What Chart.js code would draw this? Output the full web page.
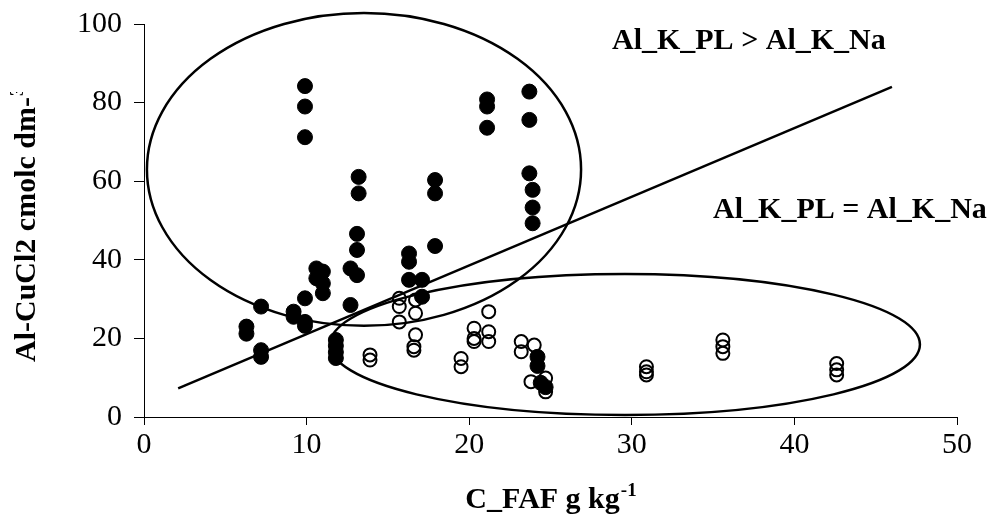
<!DOCTYPE html>
<html>
<head>
<meta charset="utf-8">
<script src="https://cdn.jsdelivr.net/npm/chart.js@4/dist/chart.umd.min.js"></script>
<style>
  html, body { margin: 0; padding: 0; background: #fff; }
  #wrap { width: 1001px; height: 532px; }
</style>
</head>
<body>
<div id="wrap"><canvas id="c" width="1001" height="532"></canvas></div>
<script>
// Samples where Al_K_PL > Al_K_Na (filled markers)
const filledX = [6.3, 6.3, 7.2, 7.2, 7.2, 9.2, 9.2, 9.9, 9.9, 9.9, 9.9, 9.9, 9.9,
  10.6, 10.6, 11.0, 11.0, 11.0, 11.8, 11.8, 11.8, 11.8, 12.7, 12.7, 13.1,
  13.2, 13.2, 13.1, 13.1, 16.3, 16.3, 16.3, 17.1, 17.1, 17.9, 17.9, 17.9,
  21.1, 21.1, 21.1, 23.7, 23.7, 23.7, 23.9, 23.9, 23.9, 24.2, 24.2, 24.4, 24.7];
const filledY = [23.0, 21.2, 28.1, 17.0, 15.3, 26.8, 25.5, 84.2, 79.0, 71.2, 30.2, 24.2, 23.2,
  37.8, 35.3, 37.0, 34.0, 31.5, 19.6, 18.1, 16.5, 15.0, 37.8, 28.5, 36.1,
  61.1, 56.9, 46.6, 42.5, 41.6, 39.5, 34.9, 34.9, 30.6, 60.3, 56.9, 43.5,
  80.8, 79.0, 73.6, 82.8, 75.6, 62.0, 57.8, 53.3, 49.3, 15.3, 13.0, 8.7, 7.6];

// Samples where Al_K_PL = Al_K_Na (open markers)
const openX = [13.9, 13.9, 15.7, 15.7, 15.7, 16.7, 16.7, 16.7, 16.6, 16.6,
  19.5, 19.5, 20.3, 20.3, 20.3, 21.2, 21.2, 21.2, 23.2, 23.2,
  24.0, 23.8, 24.7, 24.7, 30.9, 30.9, 30.9, 35.6, 35.6, 35.6, 42.6, 42.6, 42.6];
const openY = [15.8, 14.5, 30.2, 28.1, 24.2, 29.8, 26.4, 20.9, 17.9, 17.0,
  14.9, 12.8, 22.6, 20.0, 19.2, 26.8, 21.7, 19.2, 19.2, 16.6,
  18.3, 9.0, 9.9, 6.4, 12.8, 11.5, 10.7, 19.6, 17.9, 16.2, 13.6, 12.0, 10.7];

// Separation line end points
const lineX = [2.1, 46.0];
const lineY = [7.3, 84.0];

// Group outlines: centre and half-axes, in data units
const groupEllipses = [
  { cx: 13.53, cy: 63.0, rx: 13.35, ry: 39.8 },
  { cx: 29.58, cy: 18.45, rx: 18.14, ry: 17.94 }
];

// Group captions, anchored in data units (left edge, baseline)
const captions = [
  { text: 'Al_K_PL > Al_K_Na', x: 28.78, y: 93.6 },
  { text: 'Al_K_PL = Al_K_Na', x: 35.0, y: 50.6 }
];

const xTitle = 'C_FAF g kg';
const xTitleSup = '-1';
const yTitle = 'Al-CuCl2 cmolc dm-';
const yTitleSup = '3';

const SERIF = '"Liberation Serif", "Times New Roman", serif';

const toPoints = (xs, ys) => xs.map((x, i) => ({ x, y: ys[i] }));

const overlay = {
  id: 'overlay',
  afterDatasetsDraw(chart) {
    const { ctx, scales: { x, y } } = chart;
    ctx.save();
    ctx.strokeStyle = '#000';
    ctx.lineWidth = 2.5;
    groupEllipses.forEach(e => {
      const px = x.getPixelForValue(e.cx);
      const py = y.getPixelForValue(e.cy);
      const rx = Math.abs(x.getPixelForValue(e.cx + e.rx) - px);
      const ry = Math.abs(y.getPixelForValue(e.cy + e.ry) - py);
      ctx.beginPath();
      ctx.ellipse(px, py, rx, ry, 0, 0, Math.PI * 2);
      ctx.stroke();
    });
    ctx.fillStyle = '#000';
    ctx.font = 'bold 30px ' + SERIF;
    ctx.textAlign = 'left';
    ctx.textBaseline = 'alphabetic';
    captions.forEach(c => {
      ctx.fillText(c.text, x.getPixelForValue(c.x), y.getPixelForValue(c.y));
    });
    ctx.restore();
  },
  afterDraw(chart) {
    const { ctx, chartArea } = chart;
    ctx.save();
    ctx.fillStyle = '#000';
    // x axis title with superscript
    ctx.font = 'bold 30px ' + SERIF;
    const mainW = ctx.measureText(xTitle).width;
    ctx.font = 'bold 19px ' + SERIF;
    const supW = ctx.measureText(xTitleSup).width;
    const cx = (chartArea.left + chartArea.right) / 2;
    const startX = cx - (mainW + supW) / 2;
    ctx.textAlign = 'left';
    ctx.textBaseline = 'alphabetic';
    ctx.font = 'bold 30px ' + SERIF;
    ctx.fillText(xTitle, startX, 508);
    ctx.font = 'bold 19px ' + SERIF;
    ctx.fillText(xTitleSup, startX + mainW + 1, 496);

    // y axis title, rotated; the text box cuts it off at the top
    ctx.beginPath();
    ctx.rect(0, 92, 120, 440);
    ctx.clip();
    ctx.translate(35, 362);
    ctx.rotate(-Math.PI / 2);
    ctx.font = 'bold 30px ' + SERIF;
    ctx.fillText(yTitle, 0, 0);
    const yw = ctx.measureText(yTitle).width;
    ctx.font = 'bold 19px ' + SERIF;
    ctx.fillText(yTitleSup, yw + 1, -12);
    ctx.restore();
  }
};

const axisCommon = {
  type: 'linear',
  grid: { display: true, drawOnChartArea: false, drawTicks: true, color: '#000', lineWidth: 1 },
  border: { display: true, color: '#000', width: 1 },
  ticks: { color: '#000', font: { family: SERIF, size: 30 } }
};

new Chart(document.getElementById('c'), {
  type: 'scatter',
  data: {
    datasets: [
      {
        label: 'line',
        data: toPoints(lineX, lineY),
        showLine: true,
        borderColor: '#000',
        borderWidth: 2.5,
        pointRadius: 0,
        fill: false
      },
      {
        label: 'Al_K_PL > Al_K_Na',
        data: toPoints(filledX, filledY),
        pointRadius: 7.5,
        pointBackgroundColor: '#000',
        pointBorderColor: '#000',
        pointBorderWidth: 1
      },
      {
        label: 'Al_K_PL = Al_K_Na',
        data: toPoints(openX, openY),
        pointRadius: 6.5,
        pointBackgroundColor: 'rgba(0,0,0,0)',
        pointBorderColor: '#000',
        pointBorderWidth: 2
      }
    ]
  },
  options: {
    responsive: false,
    animation: false,
    devicePixelRatio: 1,
    layout: { padding: { top: 24, right: 44, left: 0, bottom: 0 } },
    plugins: { legend: { display: false }, tooltip: { enabled: false } },
    scales: {
      x: {
        ...axisCommon,
        min: 0, max: 50,
        grid: { ...axisCommon.grid, tickLength: 8 },
        ticks: { ...axisCommon.ticks, stepSize: 10, padding: 2, maxRotation: 0 },
        afterFit: s => { s.height = 115; }
      },
      y: {
        ...axisCommon,
        min: 0, max: 100,
        grid: { ...axisCommon.grid, tickLength: 10 },
        ticks: { ...axisCommon.ticks, stepSize: 20, padding: 12 },
        afterFit: s => { s.width = 144; s.paddingTop = 0; s.paddingBottom = 0; }
      }
    }
  },
  plugins: [overlay]
});
</script>
</body>
</html>
